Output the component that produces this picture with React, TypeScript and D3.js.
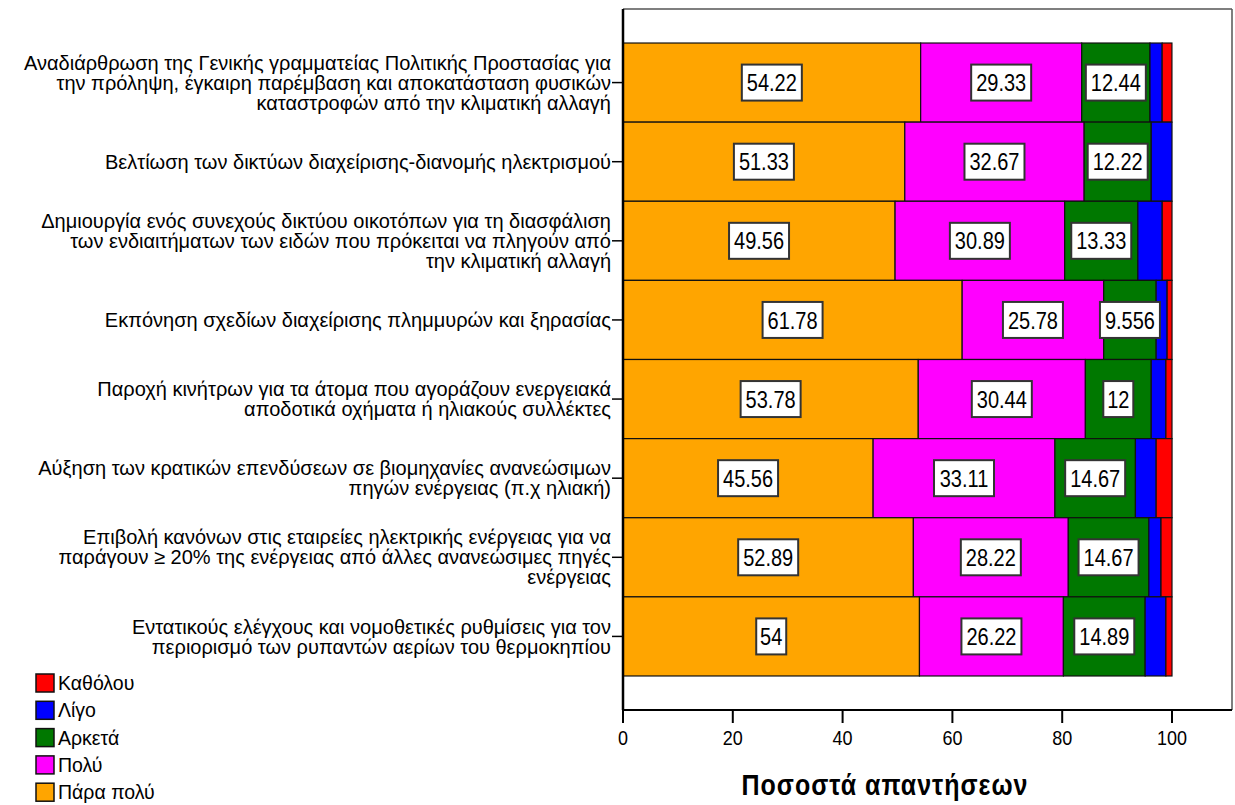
import React from "react";
import * as d3 from "d3";

const categories: string[][] = [
  ["Αναδιάρθρωση της Γενικής γραμματείας Πολιτικής Προστασίας για", "την πρόληψη, έγκαιρη παρέμβαση και αποκατάσταση φυσικών", "καταστροφών από την κλιματική αλλαγή"],
  ["Βελτίωση των δικτύων διαχείρισης-διανομής ηλεκτρισμού"],
  ["Δημιουργία ενός συνεχούς δικτύου οικοτόπων για τη διασφάλιση", "των ενδιαιτήματων των ειδών που πρόκειται να πληγούν από", "την κλιματική αλλαγή"],
  ["Εκπόνηση σχεδίων διαχείρισης πλημμυρών και ξηρασίας"],
  ["Παροχή κινήτρων για τα άτομα που αγοράζουν ενεργειακά", "αποδοτικά οχήματα ή ηλιακούς συλλέκτες"],
  ["Αύξηση των κρατικών επενδύσεων σε βιομηχανίες ανανεώσιμων", "πηγών ενέργειας (π.χ ηλιακή)"],
  ["Επιβολή κανόνων στις εταιρείες ηλεκτρικής ενέργειας για να", "παράγουν ≥ 20% της ενέργειας από άλλες ανανεώσιμες πηγές", "ενέργειας"],
  ["Εντατικούς ελέγχους και νομοθετικές ρυθμίσεις για τον", "περιορισμό των ρυπαντών αερίων του θερμοκηπίου"],
];

const paraPolu = [54.22, 51.33, 49.56, 61.78, 53.78, 45.56, 52.89, 54];
const polu = [29.33, 32.67, 30.89, 25.78, 30.44, 33.11, 28.22, 26.22];
const arketa = [12.44, 12.22, 13.33, 9.556, 12, 14.67, 14.67, 14.89];
const ligo = [2.22, 3.78, 4.44, 2.0, 2.67, 3.78, 2.22, 3.78];
const katholou = [1.78, 0, 1.78, 0.89, 1.11, 2.89, 2.0, 1.11];

const seriesNames = ["Πάρα πολύ", "Πολύ", "Αρκετά", "Λίγο", "Καθόλου"];
const seriesColors = ["#FFA500", "#FF00FF", "#007800", "#0000FF", "#FF0000"];
const labeledSeries = [true, true, true, false, false];

const xTicks = [0, 20, 40, 60, 80, 100];
const xTitle = "Ποσοστά απαντήσεων";

const FONT = "'Liberation Sans', Arial, sans-serif";

export default function App() {
  const W = 1235, H = 805;
  const left = 623, right = 1232, top = 9, bottom = 710;
  const x = d3.scaleLinear().domain([0, 100]).range([left, 1172]);
  const y = d3.scaleBand<number>().domain(d3.range(categories.length)).range([top, bottom]).paddingInner(0).paddingOuter(0.43);
  const series = [paraPolu, polu, arketa, ligo, katholou];
  const rows = categories.map((_, i) => {
    const vals = series.map((s) => s[i]);
    const starts = d3.cumsum([0, ...vals.slice(0, -1)]);
    return vals.map((v, k) => ({ v, x0: starts[k], x1: starts[k] + v, k }));
  });
  const SY = 1.2;
  const catSize = 20;
  const lineH = 20;
  const valSize = 20;

  return (
    <svg width={W} height={H} style={{ position: "absolute", left: 0, top: 0, background: "#fff" }} fontFamily={FONT}>
      <rect x={0} y={0} width={W} height={H} fill="#fff" />
      {/* frame */}
      <line x1={left} x2={right} y1={top} y2={top} stroke="#555" strokeWidth={1.5} />
      <line x1={right} x2={right} y1={top} y2={bottom} stroke="#555" strokeWidth={1.5} />
      <line x1={left} x2={right} y1={bottom} y2={bottom} stroke="#000" strokeWidth={2} />
      {/* bars */}
      {rows.map((segs, i) => (
        <g key={i}>
          {segs.filter((s) => s.v > 0).map((s) => (
            <rect key={s.k} x={x(s.x0)} y={y(i)!} width={x(s.x1) - x(s.x0)} height={y.bandwidth()}
              fill={seriesColors[s.k]} stroke="#111" strokeWidth={1.2} />
          ))}
        </g>
      ))}
      {/* value labels */}
      {rows.map((segs, i) => (
        <g key={"l" + i}>
          {segs.filter((s) => labeledSeries[s.k]).map((s) => {
            const txt = String(s.v);
            const w = txt.length * valSize * 0.5 + 10;
            const cx = (x(s.x0) + x(s.x1)) / 2;
            const cy = y(i)! + y.bandwidth() / 2;
            return (
              <g key={s.k}>
                <rect x={cx - w / 2} y={cy - 18} width={w} height={36} fill="#fff" stroke="#333" strokeWidth={2} />
                <text transform={`translate(${cx},${cy}) scale(1,${SY})`} dy="0.36em" textAnchor="middle" fontSize={valSize} fill="#000">{txt}</text>
              </g>
            );
          })}
        </g>
      ))}
      {/* left axis */}
      <line x1={left} x2={left} y1={top} y2={bottom} stroke="#000" strokeWidth={2.5} />
      {categories.map((lines, i) => {
        const cy = y(i)! + y.bandwidth() / 2;
        return (
          <g key={"c" + i}>
            <line x1={left - 11} x2={left} y1={cy} y2={cy} stroke="#000" strokeWidth={1.5} />
            {lines.map((ln, j) => {
              const ly = cy + (j - (lines.length - 1) / 2) * lineH;
              return (
                <text key={j} x={left - 12} y={ly} dy="0.36em" textAnchor="end" fontSize={catSize} fill="#000">{ln}</text>
              );
            })}
          </g>
        );
      })}
      {/* x axis */}
      {xTicks.map((t) => (
        <g key={t}>
          <line x1={x(t)} x2={x(t)} y1={bottom} y2={bottom + 13} stroke="#000" strokeWidth={2} />
          <text transform={`translate(${x(t)},${bottom + 28}) scale(1,1.15)`} dy="0.36em" textAnchor="middle" fontSize={18} fill="#000">{t}</text>
        </g>
      ))}
      <text transform={`translate(885,${784}) scale(1,1.17)`} dy="0.36em" textAnchor="middle" fontSize={25} fontWeight="bold" letterSpacing={1} fill="#000">{xTitle}</text>
      {/* legend */}
      {[4, 3, 2, 1, 0].map((k, r) => {
        const ly = 683 + r * 27.3;
        return (
          <g key={"lg" + k}>
            <rect x={36} y={ly - 9} width={18} height={18} fill={seriesColors[k]} stroke="#111" strokeWidth={1.5} />
            <text x={58} y={ly} dy="0.36em" fontSize={19.5} fill="#000">{seriesNames[k]}</text>
          </g>
        );
      })}
    </svg>
  );
}
